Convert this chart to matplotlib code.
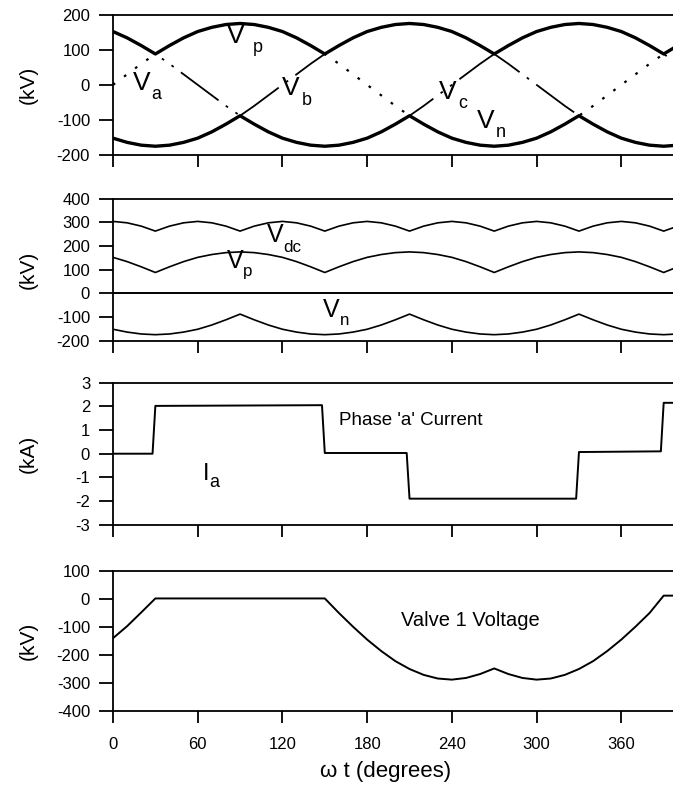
import matplotlib
matplotlib.use('Agg')
import matplotlib.pyplot as plt

plt.rcParams['font.family'] = ['Liberation Sans', 'DejaVu Sans']
plt.rcParams['axes.unicode_minus'] = False

# angle axis (degrees), sampled every 10 degrees
wt = list(range(0, 420, 10))

# phase voltages (kV)
va = [0, 30, 60, 88, 112, 134, 152, 164, 172, 175, 172, 164, 152, 134, 112, 88, 60, 30,
      0, -30, -60, -88, -112, -134, -152, -164, -172, -175, -172, -164, -152, -134, -112, -88, -60, -30,
      0, 30, 60, 88, 112, 134]
vb = [-152, -164, -172, -175, -172, -164, -152, -134, -112, -88, -60, -30, 0, 30, 60, 88, 112, 134,
      152, 164, 172, 175, 172, 164, 152, 134, 112, 88, 60, 30, 0, -30, -60, -88, -112, -134,
      -152, -164, -172, -175, -172, -164]
vc = [152, 134, 112, 88, 60, 30, 0, -30, -60, -88, -112, -134, -152, -164, -172, -175, -172, -164,
      -152, -134, -112, -88, -60, -30, 0, 30, 60, 88, 112, 134, 152, 164, 172, 175, 172, 164,
      152, 134, 112, 88, 60, 30]

# positive / negative rail voltages and dc voltage (kV)
vp = [152, 134, 112, 88, 112, 134, 152, 164, 172, 175, 172, 164, 152, 134, 112, 88, 112, 134,
      152, 164, 172, 175, 172, 164, 152, 134, 112, 88, 112, 134, 152, 164, 172, 175, 172, 164,
      152, 134, 112, 88, 112, 134]
vn = [-152, -164, -172, -175, -172, -164, -152, -134, -112, -88, -112, -134, -152, -164, -172, -175, -172, -164,
      -152, -134, -112, -88, -112, -134, -152, -164, -172, -175, -172, -164, -152, -134, -112, -88, -112, -134,
      -152, -164, -172, -175, -172, -164]
vdc = [304, 298, 284, 263, 284, 298, 304, 298, 284, 263, 284, 298, 304, 298, 284, 263, 284, 298,
       304, 298, 284, 263, 284, 298, 304, 298, 284, 263, 284, 298, 304, 298, 284, 263, 284, 298,
       304, 298, 284, 263, 284, 298]

# phase 'a' current (kA)
ia_wt = [0, 28, 30, 148, 150, 208, 210, 328, 330, 388, 390, 410]
ia = [0, 0, 2.02, 2.05, 0.03, 0.03, -1.9, -1.9, 0.07, 0.1, 2.15, 2.15]

# valve 1 voltage (kV)
vvalve = [-140, -97, -48, 2, 2, 2, 2, 2, 2, 2, 2, 2, 2, 2, 2, 2, -50, -99,
          -145, -186, -222, -250, -271, -284, -288, -282, -268, -248, -268, -282, -288, -284, -271, -250, -222, -186,
          -145, -99, -50, 12, 12, 12]

xticks = [0, 60, 120, 180, 240, 300, 360]

W, H = 673, 790
fig = plt.figure(figsize=(W / 100, H / 100), dpi=100)

x0 = 113
pxdeg = 1.412
xmax = 410
axw = xmax * pxdeg / W


def make_ax(top, bottom, ylim, yticks):
    ax = fig.add_axes([x0 / W, 1 - bottom / H, axw, (bottom - top) / H])
    ax.set_xlim(0, xmax)
    ax.set_ylim(*ylim)
    ax.set_yticks(yticks)
    ax.set_xticks(xticks)
    ax.spines['right'].set_visible(False)
    for s in ['left', 'top', 'bottom']:
        ax.spines[s].set_linewidth(1.3)
    ax.tick_params(axis='y', direction='out', length=10, width=1.3, pad=6.5, labelsize=12)
    ax.tick_params(axis='x', direction='out', length=8.5, width=1.3, pad=10, labelsize=12)
    return ax


def vlab(ax, x, y, sub, dx, dy, size=19):
    ax.text(x, y, 'V', fontsize=size, va='baseline')
    ax.annotate(sub, (x, y), xytext=(dx, -dy), textcoords='offset points',
                fontsize=size * 0.68, va='baseline')


# panel 1: phase voltages
ax1 = make_ax(14.7, 155, (-200, 200), [-200, -100, 0, 100, 200])
ax1.plot(wt, va, color='black', lw=1.6, linestyle=(0, (1.2, 5)))
ax1.plot(wt, vb, color='black', lw=1.3, linestyle=(0, (26, 5, 1.5, 5)))
ax1.plot(wt, vc, color='black', lw=1.3, linestyle=(0, (26, 5, 1.5, 5, 1.5, 5)))
ax1.plot(wt, vp, color='black', lw=2.4)
ax1.plot(wt, vn, color='black', lw=2.4)
ax1.set_xticklabels([])
vlab(ax1, 80.7, 118.5, 'p', 18.7, 6)
vlab(ax1, 14.4, -14.5, 'a', 13, 6.7)
vlab(ax1, 119.5, -28.8, 'b', 14.4, 7.2)
vlab(ax1, 231, -41, 'c', 14, 6.5)
vlab(ax1, 258, -123.7, 'n', 13, 6)

# panel 2: dc side voltages
ax2 = make_ax(198.7, 340.6, (-200, 400), [-200, -100, 0, 100, 200, 300, 400])
ax2.axhline(0, color='black', lw=1.4)
ax2.plot(wt, vdc, color='black', lw=1.2)
ax2.plot(wt, vp, color='black', lw=1.2)
ax2.plot(wt, vn, color='black', lw=1.2)
ax2.set_xticklabels([])
vlab(ax2, 108.8, 218, 'dc', 12, 7.2, size=18)
vlab(ax2, 80.5, 106, 'p', 12, 5.5, size=18)
vlab(ax2, 148.5, -99, 'n', 12.5, 6, size=18)

# panel 3: phase current
ax3 = make_ax(382.7, 524.7, (-3, 3), [-3, -2, -1, 0, 1, 2, 3])
ax3.plot(ia_wt, ia, color='black', lw=1.4)
ax3.set_xticklabels([])
ax3.text(64, -1.11, 'I', fontsize=17, va='baseline')
ax3.annotate('a', (64, -1.11), xytext=(4.5, -4.8), textcoords='offset points',
             fontsize=13, va='baseline')
ax3.text(160, 1.39, "Phase 'a' Current", fontsize=13.5, va='center')

# panel 4: valve voltage
ax4 = make_ax(571, 711, (-400, 100), [-400, -300, -200, -100, 0, 100])
ax4.plot(wt, vvalve, color='black', lw=1.4)
ax4.text(204, -75, 'Valve 1 Voltage', fontsize=14.5, va='center')

for ax in [ax1, ax2, ax4]:
    ax.set_ylabel('(kV)', fontsize=15)
    ax.yaxis.set_label_coords(-0.1295, 0.5)
ax3.set_ylabel('(kA)', fontsize=15)
ax3.yaxis.set_label_coords(-0.1295, 0.5)

fig.text(386 / W, 1 - 771 / H, '\u03c9 t (degrees)', fontsize=16, ha='center', va='center')

fig.savefig('out.png', dpi=100)
